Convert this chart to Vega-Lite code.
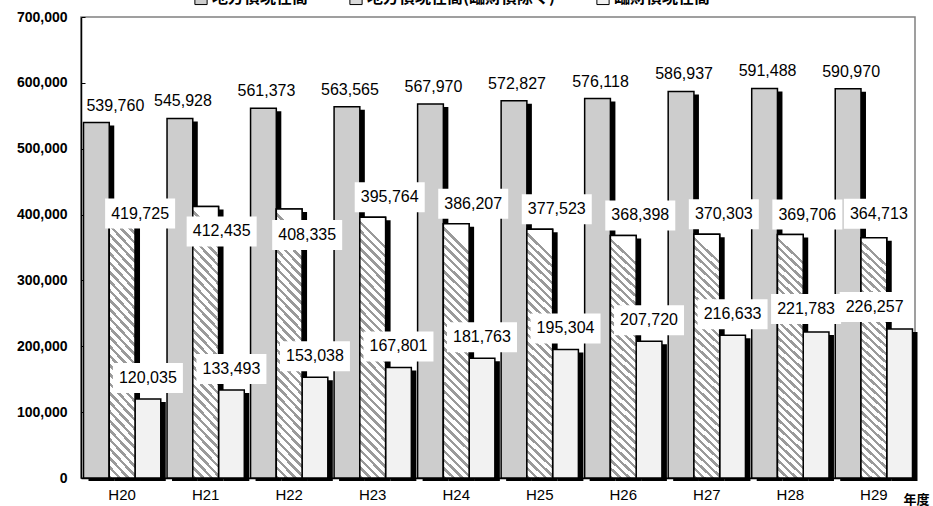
{
  "$schema": "https://vega.github.io/schema/vega-lite/v6.json",
  "autosize": "none",
  "width": 834,
  "height": 461,
  "padding": {"left": 81, "top": 17, "right": 18, "bottom": 28},
  "background": "white",
  "config": {
    "view": {"stroke": "#808080", "strokeWidth": 1.5},
    "font": "Liberation Sans"
  },
  "data": {
    "values": [
      {"year": "H20", "series": "地方債現在高", "value": 539760},
      {"year": "H20", "series": "地方債現在高(臨財債除く)", "value": 419725},
      {"year": "H20", "series": "臨財債現在高", "value": 120035},
      {"year": "H21", "series": "地方債現在高", "value": 545928},
      {"year": "H21", "series": "地方債現在高(臨財債除く)", "value": 412435},
      {"year": "H21", "series": "臨財債現在高", "value": 133493},
      {"year": "H22", "series": "地方債現在高", "value": 561373},
      {"year": "H22", "series": "地方債現在高(臨財債除く)", "value": 408335},
      {"year": "H22", "series": "臨財債現在高", "value": 153038},
      {"year": "H23", "series": "地方債現在高", "value": 563565},
      {"year": "H23", "series": "地方債現在高(臨財債除く)", "value": 395764},
      {"year": "H23", "series": "臨財債現在高", "value": 167801},
      {"year": "H24", "series": "地方債現在高", "value": 567970},
      {"year": "H24", "series": "地方債現在高(臨財債除く)", "value": 386207},
      {"year": "H24", "series": "臨財債現在高", "value": 181763},
      {"year": "H25", "series": "地方債現在高", "value": 572827},
      {"year": "H25", "series": "地方債現在高(臨財債除く)", "value": 377523},
      {"year": "H25", "series": "臨財債現在高", "value": 195304},
      {"year": "H26", "series": "地方債現在高", "value": 576118},
      {"year": "H26", "series": "地方債現在高(臨財債除く)", "value": 368398},
      {"year": "H26", "series": "臨財債現在高", "value": 207720},
      {"year": "H27", "series": "地方債現在高", "value": 586937},
      {"year": "H27", "series": "地方債現在高(臨財債除く)", "value": 370303},
      {"year": "H27", "series": "臨財債現在高", "value": 216633},
      {"year": "H28", "series": "地方債現在高", "value": 591488},
      {"year": "H28", "series": "地方債現在高(臨財債除く)", "value": 369706},
      {"year": "H28", "series": "臨財債現在高", "value": 221783},
      {"year": "H29", "series": "地方債現在高", "value": 590970},
      {"year": "H29", "series": "地方債現在高(臨財債除く)", "value": 364713},
      {"year": "H29", "series": "臨財債現在高", "value": 226257}
    ]
  },
  "encoding": {
    "x": {
      "field": "year", "type": "nominal",
      "scale": {"paddingInner": 0.075, "paddingOuter": 0.03},
      "axis": {
        "title": "年度", "titleX": 835, "titleY": 21, "titleAlign": "center", "titleBaseline": "middle",
        "titleFont": "Noto Sans CJK JP", "titleFontSize": 13, "titleFontWeight": "bold", "titleColor": "black",
        "labelAngle": 0, "labelFontSize": 15, "labelPadding": 9, "labelColor": "black", "labelFont": "Liberation Sans",
        "ticks": false, "domainColor": "black", "domainWidth": 1.5, "grid": false
      }
    },
    "xOffset": {
      "field": "series", "type": "nominal",
      "scale": {"domain": ["地方債現在高", "地方債現在高(臨財債除く)", "臨財債現在高"], "paddingInner": 0, "paddingOuter": 0}
    },
    "y": {
      "field": "value", "type": "quantitative",
      "scale": {"domain": [0, 700000], "nice": false},
      "axis": {
        "title": null, "values": [0, 100000, 200000, 300000, 400000, 500000, 600000, 700000], "format": ",.0f",
        "grid": false, "ticks": true, "tickSize": -4, "tickColor": "black", "tickWidth": 1, "labelPadding": 18, "labelFontSize": 14, "labelFontWeight": "bold",
        "labelColor": "black", "labelFont": "Liberation Sans", "domainColor": "black", "domainWidth": 1.5
      }
    }
  },
  "resolve": {"scale": {"y": "independent", "xOffset": "independent"}},
  "layer": [
    {
      "mark": {"type": "bar", "color": "black"},
      "encoding": {
        "xOffset": {
          "field": "series", "type": "nominal",
          "scale": {"domain": ["地方債現在高", "地方債現在高(臨財債除く)", "臨財債現在高"], "range": [5, 82.26], "paddingInner": 0, "paddingOuter": 0}
        },
        "y": {
          "field": "value", "type": "quantitative",
          "scale": {"domain": [0, 700000], "nice": false, "range": [464, 3]},
          "axis": null
        }
      }
    },
    {
      "layer": [
        {
          "mark": {"type": "bar", "stroke": "black", "strokeWidth": 1.5},
          "encoding": {
            "color": {
              "field": "series", "type": "nominal",
              "scale": {"domain": ["地方債現在高", "地方債現在高(臨財債除く)", "臨財債現在高"], "range": ["#cdcdcd", "#dadada", "#f2f2f2"]},
              "legend": {
                "orient": "none", "legendX": 112, "legendY": -27, "direction": "horizontal", "title": null,
                "symbolType": "square", "symbolSize": 150, "symbolStrokeColor": "black", "symbolStrokeWidth": 1,
                "labelFont": "Noto Sans CJK JP", "labelFontSize": 16, "labelFontWeight": "bold", "labelColor": "black",
                "labelLimit": 400, "columnPadding": 38, "labelOffset": 3, "padding": 0
              }
            }
          }
        },
        {
          "transform": [{"filter": "datum.series === '地方債現在高(臨財債除く)'"}],
          "mark": {
            "type": "bar", "stroke": "black", "strokeWidth": 1.5,
            "fill": {
              "gradient": "linear", "x1": 0, "y1": 1, "x2": 0.1, "y2": 0,
              "stops": [
                {"offset": 0, "color": "#9a9a9a"}, {"offset": 0.0133, "color": "#9a9a9a"}, {"offset": 0.0133, "color": "#ffffff"}, {"offset": 0.0333, "color": "#ffffff"},
                {"offset": 0.0333, "color": "#9a9a9a"}, {"offset": 0.0467, "color": "#9a9a9a"}, {"offset": 0.0467, "color": "#ffffff"}, {"offset": 0.0667, "color": "#ffffff"},
                {"offset": 0.0667, "color": "#9a9a9a"}, {"offset": 0.08, "color": "#9a9a9a"}, {"offset": 0.08, "color": "#ffffff"}, {"offset": 0.1, "color": "#ffffff"},
                {"offset": 0.1, "color": "#9a9a9a"}, {"offset": 0.1133, "color": "#9a9a9a"}, {"offset": 0.1133, "color": "#ffffff"}, {"offset": 0.1333, "color": "#ffffff"},
                {"offset": 0.1333, "color": "#9a9a9a"}, {"offset": 0.1467, "color": "#9a9a9a"}, {"offset": 0.1467, "color": "#ffffff"}, {"offset": 0.1667, "color": "#ffffff"},
                {"offset": 0.1667, "color": "#9a9a9a"}, {"offset": 0.18, "color": "#9a9a9a"}, {"offset": 0.18, "color": "#ffffff"}, {"offset": 0.2, "color": "#ffffff"},
                {"offset": 0.2, "color": "#9a9a9a"}, {"offset": 0.2133, "color": "#9a9a9a"}, {"offset": 0.2133, "color": "#ffffff"}, {"offset": 0.2333, "color": "#ffffff"},
                {"offset": 0.2333, "color": "#9a9a9a"}, {"offset": 0.2467, "color": "#9a9a9a"}, {"offset": 0.2467, "color": "#ffffff"}, {"offset": 0.2667, "color": "#ffffff"},
                {"offset": 0.2667, "color": "#9a9a9a"}, {"offset": 0.28, "color": "#9a9a9a"}, {"offset": 0.28, "color": "#ffffff"}, {"offset": 0.3, "color": "#ffffff"},
                {"offset": 0.3, "color": "#9a9a9a"}, {"offset": 0.3133, "color": "#9a9a9a"}, {"offset": 0.3133, "color": "#ffffff"}, {"offset": 0.3333, "color": "#ffffff"},
                {"offset": 0.3333, "color": "#9a9a9a"}, {"offset": 0.3467, "color": "#9a9a9a"}, {"offset": 0.3467, "color": "#ffffff"}, {"offset": 0.3667, "color": "#ffffff"},
                {"offset": 0.3667, "color": "#9a9a9a"}, {"offset": 0.38, "color": "#9a9a9a"}, {"offset": 0.38, "color": "#ffffff"}, {"offset": 0.4, "color": "#ffffff"},
                {"offset": 0.4, "color": "#9a9a9a"}, {"offset": 0.4133, "color": "#9a9a9a"}, {"offset": 0.4133, "color": "#ffffff"}, {"offset": 0.4333, "color": "#ffffff"},
                {"offset": 0.4333, "color": "#9a9a9a"}, {"offset": 0.4467, "color": "#9a9a9a"}, {"offset": 0.4467, "color": "#ffffff"}, {"offset": 0.4667, "color": "#ffffff"},
                {"offset": 0.4667, "color": "#9a9a9a"}, {"offset": 0.48, "color": "#9a9a9a"}, {"offset": 0.48, "color": "#ffffff"}, {"offset": 0.5, "color": "#ffffff"},
                {"offset": 0.5, "color": "#9a9a9a"}, {"offset": 0.5133, "color": "#9a9a9a"}, {"offset": 0.5133, "color": "#ffffff"}, {"offset": 0.5333, "color": "#ffffff"},
                {"offset": 0.5333, "color": "#9a9a9a"}, {"offset": 0.5467, "color": "#9a9a9a"}, {"offset": 0.5467, "color": "#ffffff"}, {"offset": 0.5667, "color": "#ffffff"},
                {"offset": 0.5667, "color": "#9a9a9a"}, {"offset": 0.58, "color": "#9a9a9a"}, {"offset": 0.58, "color": "#ffffff"}, {"offset": 0.6, "color": "#ffffff"},
                {"offset": 0.6, "color": "#9a9a9a"}, {"offset": 0.6133, "color": "#9a9a9a"}, {"offset": 0.6133, "color": "#ffffff"}, {"offset": 0.6333, "color": "#ffffff"},
                {"offset": 0.6333, "color": "#9a9a9a"}, {"offset": 0.6467, "color": "#9a9a9a"}, {"offset": 0.6467, "color": "#ffffff"}, {"offset": 0.6667, "color": "#ffffff"},
                {"offset": 0.6667, "color": "#9a9a9a"}, {"offset": 0.68, "color": "#9a9a9a"}, {"offset": 0.68, "color": "#ffffff"}, {"offset": 0.7, "color": "#ffffff"},
                {"offset": 0.7, "color": "#9a9a9a"}, {"offset": 0.7133, "color": "#9a9a9a"}, {"offset": 0.7133, "color": "#ffffff"}, {"offset": 0.7333, "color": "#ffffff"},
                {"offset": 0.7333, "color": "#9a9a9a"}, {"offset": 0.7467, "color": "#9a9a9a"}, {"offset": 0.7467, "color": "#ffffff"}, {"offset": 0.7667, "color": "#ffffff"},
                {"offset": 0.7667, "color": "#9a9a9a"}, {"offset": 0.78, "color": "#9a9a9a"}, {"offset": 0.78, "color": "#ffffff"}, {"offset": 0.8, "color": "#ffffff"},
                {"offset": 0.8, "color": "#9a9a9a"}, {"offset": 0.8133, "color": "#9a9a9a"}, {"offset": 0.8133, "color": "#ffffff"}, {"offset": 0.8333, "color": "#ffffff"},
                {"offset": 0.8333, "color": "#9a9a9a"}, {"offset": 0.8467, "color": "#9a9a9a"}, {"offset": 0.8467, "color": "#ffffff"}, {"offset": 0.8667, "color": "#ffffff"},
                {"offset": 0.8667, "color": "#9a9a9a"}, {"offset": 0.88, "color": "#9a9a9a"}, {"offset": 0.88, "color": "#ffffff"}, {"offset": 0.9, "color": "#ffffff"},
                {"offset": 0.9, "color": "#9a9a9a"}, {"offset": 0.9133, "color": "#9a9a9a"}, {"offset": 0.9133, "color": "#ffffff"}, {"offset": 0.9333, "color": "#ffffff"},
                {"offset": 0.9333, "color": "#9a9a9a"}, {"offset": 0.9467, "color": "#9a9a9a"}, {"offset": 0.9467, "color": "#ffffff"}, {"offset": 0.9667, "color": "#ffffff"},
                {"offset": 0.9667, "color": "#9a9a9a"}, {"offset": 0.98, "color": "#9a9a9a"}, {"offset": 0.98, "color": "#ffffff"}, {"offset": 1, "color": "#ffffff"}
              ]
            }
          }
        },
        {
          "transform": [{"filter": "datum.series === '地方債現在高(臨財債除く)' && datum.year === 'H20'"}],
          "mark": {"type": "point", "filled": true, "fill": "white", "strokeWidth": 0, "opacity": 1, "size": 10000, "shape": "M-0.34,-0.06H1.06V0.54H-0.34Z"}
        },
        {
          "transform": [{"filter": "datum.series === '地方債現在高(臨財債除く)' && datum.year === 'H21'"}],
          "mark": {"type": "point", "filled": true, "fill": "white", "strokeWidth": 0, "opacity": 1, "size": 10000, "shape": "M-0.38,0.2H1.02V0.8H-0.38Z"}
        },
        {
          "transform": [{"filter": "datum.series === '地方債現在高(臨財債除く)' && datum.year === 'H22'"}],
          "mark": {"type": "point", "filled": true, "fill": "white", "strokeWidth": 0, "opacity": 1, "size": 10000, "shape": "M-0.34,0.22H1.06V0.82H-0.34Z"}
        },
        {
          "transform": [{"filter": "datum.series === '地方債現在高(臨財債除く)' && indexof(['H23','H24','H25','H26','H27','H28'], datum.year) >= 0"}],
          "mark": {"type": "point", "filled": true, "fill": "white", "strokeWidth": 0, "opacity": 1, "size": 10000, "shape": "M-0.36,-0.7H1.04V-0.1H-0.36Z"}
        },
        {
          "transform": [{"filter": "datum.series === '地方債現在高(臨財債除く)' && datum.year === 'H29'"}],
          "mark": {"type": "point", "filled": true, "fill": "white", "strokeWidth": 0, "opacity": 1, "size": 10000, "shape": "M-0.6,-0.78H0.8V-0.18H-0.6Z"}
        },
        {
          "transform": [{"filter": "datum.series === '臨財債現在高' && indexof(['H28','H29'], datum.year) < 0"}],
          "mark": {"type": "point", "filled": true, "fill": "white", "strokeWidth": 0, "opacity": 1, "size": 10000, "shape": "M-0.7,-0.72H0.7V-0.12H-0.7Z"}
        },
        {
          "transform": [{"filter": "datum.series === '臨財債現在高' && datum.year === 'H28'"}],
          "mark": {"type": "point", "filled": true, "fill": "white", "strokeWidth": 0, "opacity": 1, "size": 10000, "shape": "M-0.9,-0.76H0.5V-0.16H-0.9Z"}
        },
        {
          "transform": [{"filter": "datum.series === '臨財債現在高' && datum.year === 'H29'"}],
          "mark": {"type": "point", "filled": true, "fill": "white", "strokeWidth": 0, "opacity": 1, "size": 10000, "shape": "M-1.2,-0.74H0.2V-0.14H-1.2Z"}
        },
        {
          "transform": [{"filter": "datum.series === '地方債現在高' && datum.year === 'H20'"}],
          "mark": {"type": "text", "dx": 19, "dy": -17, "fontSize": 16, "font": "Liberation Sans", "color": "black", "baseline": "middle"},
          "encoding": {"text": {"field": "value", "type": "quantitative", "format": ","}}
        },
        {
          "transform": [{"filter": "datum.series === '地方債現在高' && datum.year !== 'H20'"}],
          "mark": {"type": "text", "dx": 3, "dy": -17, "fontSize": 16, "font": "Liberation Sans", "color": "black", "baseline": "middle"},
          "encoding": {"text": {"field": "value", "type": "quantitative", "format": ","}}
        },
        {
          "transform": [{"filter": "datum.series === '地方債現在高(臨財債除く)' && datum.year === 'H20'"}],
          "mark": {"type": "text", "dx": 18, "dy": 12, "fontSize": 16, "font": "Liberation Sans", "color": "black", "baseline": "middle"},
          "encoding": {"text": {"field": "value", "type": "quantitative", "format": ","}}
        },
        {
          "transform": [{"filter": "datum.series === '地方債現在高(臨財債除く)' && datum.year === 'H21'"}],
          "mark": {"type": "text", "dx": 16, "dy": 25, "fontSize": 16, "font": "Liberation Sans", "color": "black", "baseline": "middle"},
          "encoding": {"text": {"field": "value", "type": "quantitative", "format": ","}}
        },
        {
          "transform": [{"filter": "datum.series === '地方債現在高(臨財債除く)' && datum.year === 'H22'"}],
          "mark": {"type": "text", "dx": 18, "dy": 26, "fontSize": 16, "font": "Liberation Sans", "color": "black", "baseline": "middle"},
          "encoding": {"text": {"field": "value", "type": "quantitative", "format": ","}}
        },
        {
          "transform": [{"filter": "datum.series === '地方債現在高(臨財債除く)' && indexof(['H23','H24','H25','H26','H27','H28'], datum.year) >= 0"}],
          "mark": {"type": "text", "dx": 17, "dy": -20, "fontSize": 16, "font": "Liberation Sans", "color": "black", "baseline": "middle"},
          "encoding": {"text": {"field": "value", "type": "quantitative", "format": ","}}
        },
        {
          "transform": [{"filter": "datum.series === '地方債現在高(臨財債除く)' && datum.year === 'H29'"}],
          "mark": {"type": "text", "dx": 5, "dy": -24, "fontSize": 16, "font": "Liberation Sans", "color": "black", "baseline": "middle"},
          "encoding": {"text": {"field": "value", "type": "quantitative", "format": ","}}
        },
        {
          "transform": [{"filter": "datum.series === '臨財債現在高' && indexof(['H28','H29'], datum.year) < 0"}],
          "mark": {"type": "text", "dx": 0, "dy": -21, "fontSize": 16, "font": "Liberation Sans", "color": "black", "baseline": "middle"},
          "encoding": {"text": {"field": "value", "type": "quantitative", "format": ","}}
        },
        {
          "transform": [{"filter": "datum.series === '臨財債現在高' && datum.year === 'H28'"}],
          "mark": {"type": "text", "dx": -10, "dy": -23, "fontSize": 16, "font": "Liberation Sans", "color": "black", "baseline": "middle"},
          "encoding": {"text": {"field": "value", "type": "quantitative", "format": ","}}
        },
        {
          "transform": [{"filter": "datum.series === '臨財債現在高' && datum.year === 'H29'"}],
          "mark": {"type": "text", "dx": -25, "dy": -22, "fontSize": 16, "font": "Liberation Sans", "color": "black", "baseline": "middle"},
          "encoding": {"text": {"field": "value", "type": "quantitative", "format": ","}}
        }
      ]
    }
  ]
}
